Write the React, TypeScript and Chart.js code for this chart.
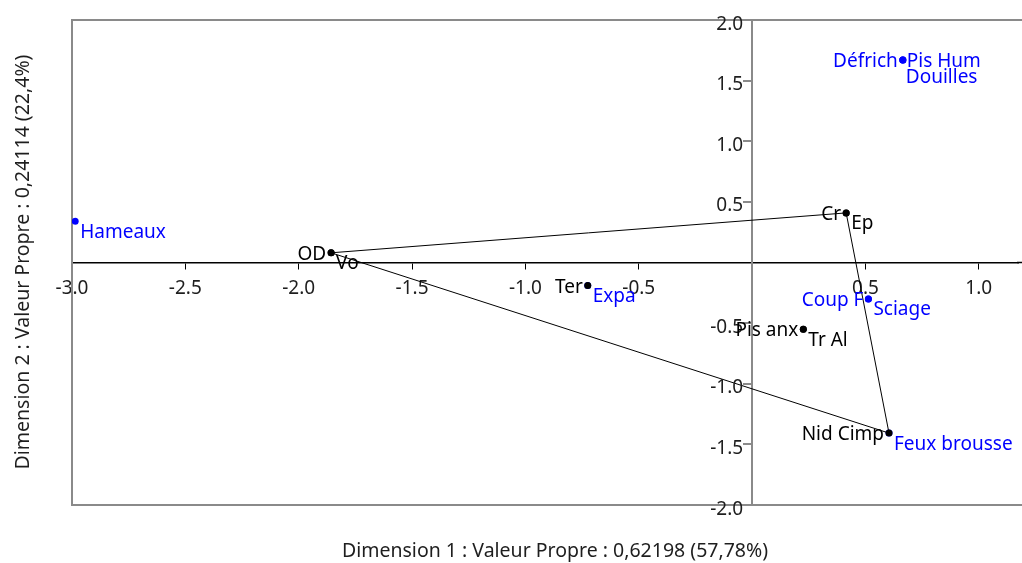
import React, { useEffect, useRef } from 'react';
import { Chart, registerables } from 'chart.js';

Chart.register(...registerables);

// ---- data ----
const rowNames = ['OD', 'Vo', 'Cr', 'Ep', 'Ter', 'Pis anx', 'Tr Al', 'Nid Cimp'];
const rowX = [-1.857, -1.857, 0.415, 0.415, -0.725, 0.226, 0.226, 0.604];
const rowY = [0.08, 0.08, 0.409, 0.409, -0.19, -0.551, -0.551, -1.407];

const colNames = ['Hameaux', 'Défrich', 'Pis Hum', 'Douilles', 'Expa', 'Coup F', 'Sciage', 'Feux brousse'];
const colX = [-2.986, 0.665, 0.665, 0.665, -0.725, 0.513, 0.513, 0.604];
const colY = [0.34, 1.67, 1.67, 1.67, -0.19, -0.3, -0.3, -1.407];

const hullX = [-1.857, 0.415, 0.604, -1.857];
const hullY = [0.08, 0.409, -1.407, 0.08];

const xTicks = [-3, -2.5, -2, -1.5, -1, -0.5, 0.5, 1];
const yTicks = [-2, -1.5, -1, -0.5, 0.5, 1, 1.5, 2];

const xTitle = 'Dimension 1 : Valeur Propre : 0,62198 (57,78%)';
const yTitle = 'Dimension 2 : Valeur Propre : 0,24114 (22,4%)';

// ---- style ----
const FONT = "'Segoe UI', 'Noto Sans', sans-serif";
const BLUE = '#0000ff';
const BLACK = '#000000';
const TEXT = '#1e1e1e';
const BOX = '#8a8a8a';

const placement: Record<string, string> = {
  OD: 'left', Vo: 'below', Cr: 'left', Ep: 'below', Ter: 'left', 'Pis anx': 'left',
  'Tr Al': 'below', 'Nid Cimp': 'left', Hameaux: 'below', 'Défrich': 'left',
  'Pis Hum': 'right', Douilles: 'below2', Expa: 'below', 'Coup F': 'left',
  Sciage: 'below', 'Feux brousse': 'below',
};

const pointLabelPlugin = {
  id: 'pointLabels',
  afterDatasetsDraw(chart: any) {
    const { ctx, scales } = chart;
    const xs = scales.x, ys = scales.y;
    ctx.save();
    // y tick labels (left of the centred axis)
    ctx.font = `19px ${FONT}`;
    ctx.fillStyle = TEXT;
    ctx.textAlign = 'right';
    ctx.textBaseline = 'alphabetic';
    const axisX = xs.getPixelForValue(0);
    yTicks.forEach((v) => {
      ctx.fillText(v.toFixed(1), axisX - 9, ys.getPixelForValue(v) + 9.5);
    });

    const drawSet = (names: string[], X: number[], Y: number[], color: string) => {
      ctx.fillStyle = color;
      names.forEach((n, i) => {
        const px = xs.getPixelForValue(X[i]);
        const py = ys.getPixelForValue(Y[i]);
        const p = placement[n] || 'below';
        if (p === 'left') {
          ctx.textAlign = 'right';
          ctx.fillText(n, px - 5, py + 7);
        } else if (p === 'right') {
          ctx.textAlign = 'left';
          ctx.fillText(n, px + 4, py + 7);
        } else if (p === 'below2') {
          ctx.textAlign = 'left';
          ctx.fillText(n, px + 3, py + 22.5);
        } else {
          ctx.textAlign = 'left';
          ctx.fillText(n, px + 5, py + 16.5);
        }
      });
    };
    drawSet(rowNames, rowX, rowY, BLACK);
    drawSet(colNames, colX, colY, BLUE);
    ctx.restore();
  },
};

const framePlugin = {
  id: 'frame',
  beforeDatasetsDraw(chart: any) {
    const { ctx, chartArea, width, scales } = chart;
    ctx.save();
    ctx.strokeStyle = BOX;
    ctx.lineWidth = 2;
    ctx.beginPath();
    ctx.moveTo(width, chartArea.top);
    ctx.lineTo(chartArea.left, chartArea.top);
    ctx.lineTo(chartArea.left, chartArea.bottom);
    ctx.lineTo(width, chartArea.bottom);
    ctx.stroke();
    // extend the horizontal axis to the canvas edge
    const y0 = scales.y.getPixelForValue(0);
    ctx.strokeStyle = BLACK;
    ctx.lineWidth = 1.5;
    ctx.beginPath();
    ctx.moveTo(chartArea.right - 1, y0);
    ctx.lineTo(width, y0);
    ctx.stroke();
    ctx.restore();
  },
  afterDraw(chart: any) {
    const { ctx } = chart;
    ctx.save();
    ctx.fillStyle = TEXT;
    ctx.font = `19.5px ${FONT}`;
    ctx.textAlign = 'center';
    ctx.textBaseline = 'middle';
    ctx.fillText(xTitle, 555, 551);
    ctx.translate(23, 262);
    ctx.rotate(-Math.PI / 2);
    ctx.fillText(yTitle, 0, 0);
    ctx.restore();
  },
};

export default function App() {
  const ref = useRef<HTMLCanvasElement | null>(null);
  useEffect(() => {
    document.body.style.margin = '0';
    const canvas = ref.current!;
    const chart = new Chart(canvas, {
      type: 'scatter',
      data: {
        datasets: [
          {
            label: 'hull',
            data: hullX.map((x, i) => ({ x, y: hullY[i] })),
            showLine: true,
            borderColor: BLACK,
            borderWidth: 1,
            pointRadius: 0,
            fill: false,
          },
          {
            label: 'rows',
            data: rowX.map((x, i) => ({ x, y: rowY[i] })),
            backgroundColor: BLACK,
            borderColor: BLACK,
            pointRadius: 3.5,
            borderWidth: 0,
          },
          {
            label: 'cols',
            data: colX.map((x, i) => ({ x, y: colY[i] })),
            backgroundColor: BLUE,
            borderColor: BLUE,
            pointRadius: 3.5,
            borderWidth: 0,
          },
        ],
      },
      options: {
        animation: false,
        responsive: false,
        layout: { padding: { left: 72, top: 20, bottom: 58, right: 0 } },
        plugins: { legend: { display: false }, tooltip: { enabled: false } },
        scales: {
          x: {
            type: 'linear',
            min: -3,
            max: 1.173,
            position: { y: 0 } as any,
            afterBuildTicks: (s: any) => { s.ticks = xTicks.map((v) => ({ value: v })); },
            grid: { drawOnChartArea: false, drawTicks: true, tickLength: 6, color: BLACK, lineWidth: 1 },
            border: { display: true, color: BLACK, width: 1.5 },
            ticks: {
              color: TEXT,
              font: { family: FONT, size: 19 },
              padding: 9,
              maxRotation: 0,
              autoSkip: false,
              callback: (v: any) => Number(v).toFixed(1),
            },
          },
          y: {
            type: 'linear',
            min: -2,
            max: 2,
            position: { x: 0 } as any,
            afterBuildTicks: (s: any) => { s.ticks = yTicks.map((v) => ({ value: v })); },
            grid: { drawOnChartArea: false, drawTicks: true, tickLength: 8, color: BOX, lineWidth: 2 },
            border: { display: true, color: BOX, width: 2 },
            ticks: { display: false },
          },
        },
      },
      plugins: [framePlugin, pointLabelPlugin],
    });
    return () => chart.destroy();
  }, []);
  return (
    <div style={{ width: 1022, height: 563 }}>
      <canvas ref={ref} width={1022} height={563} style={{ display: 'block' }} />
    </div>
  );
}
